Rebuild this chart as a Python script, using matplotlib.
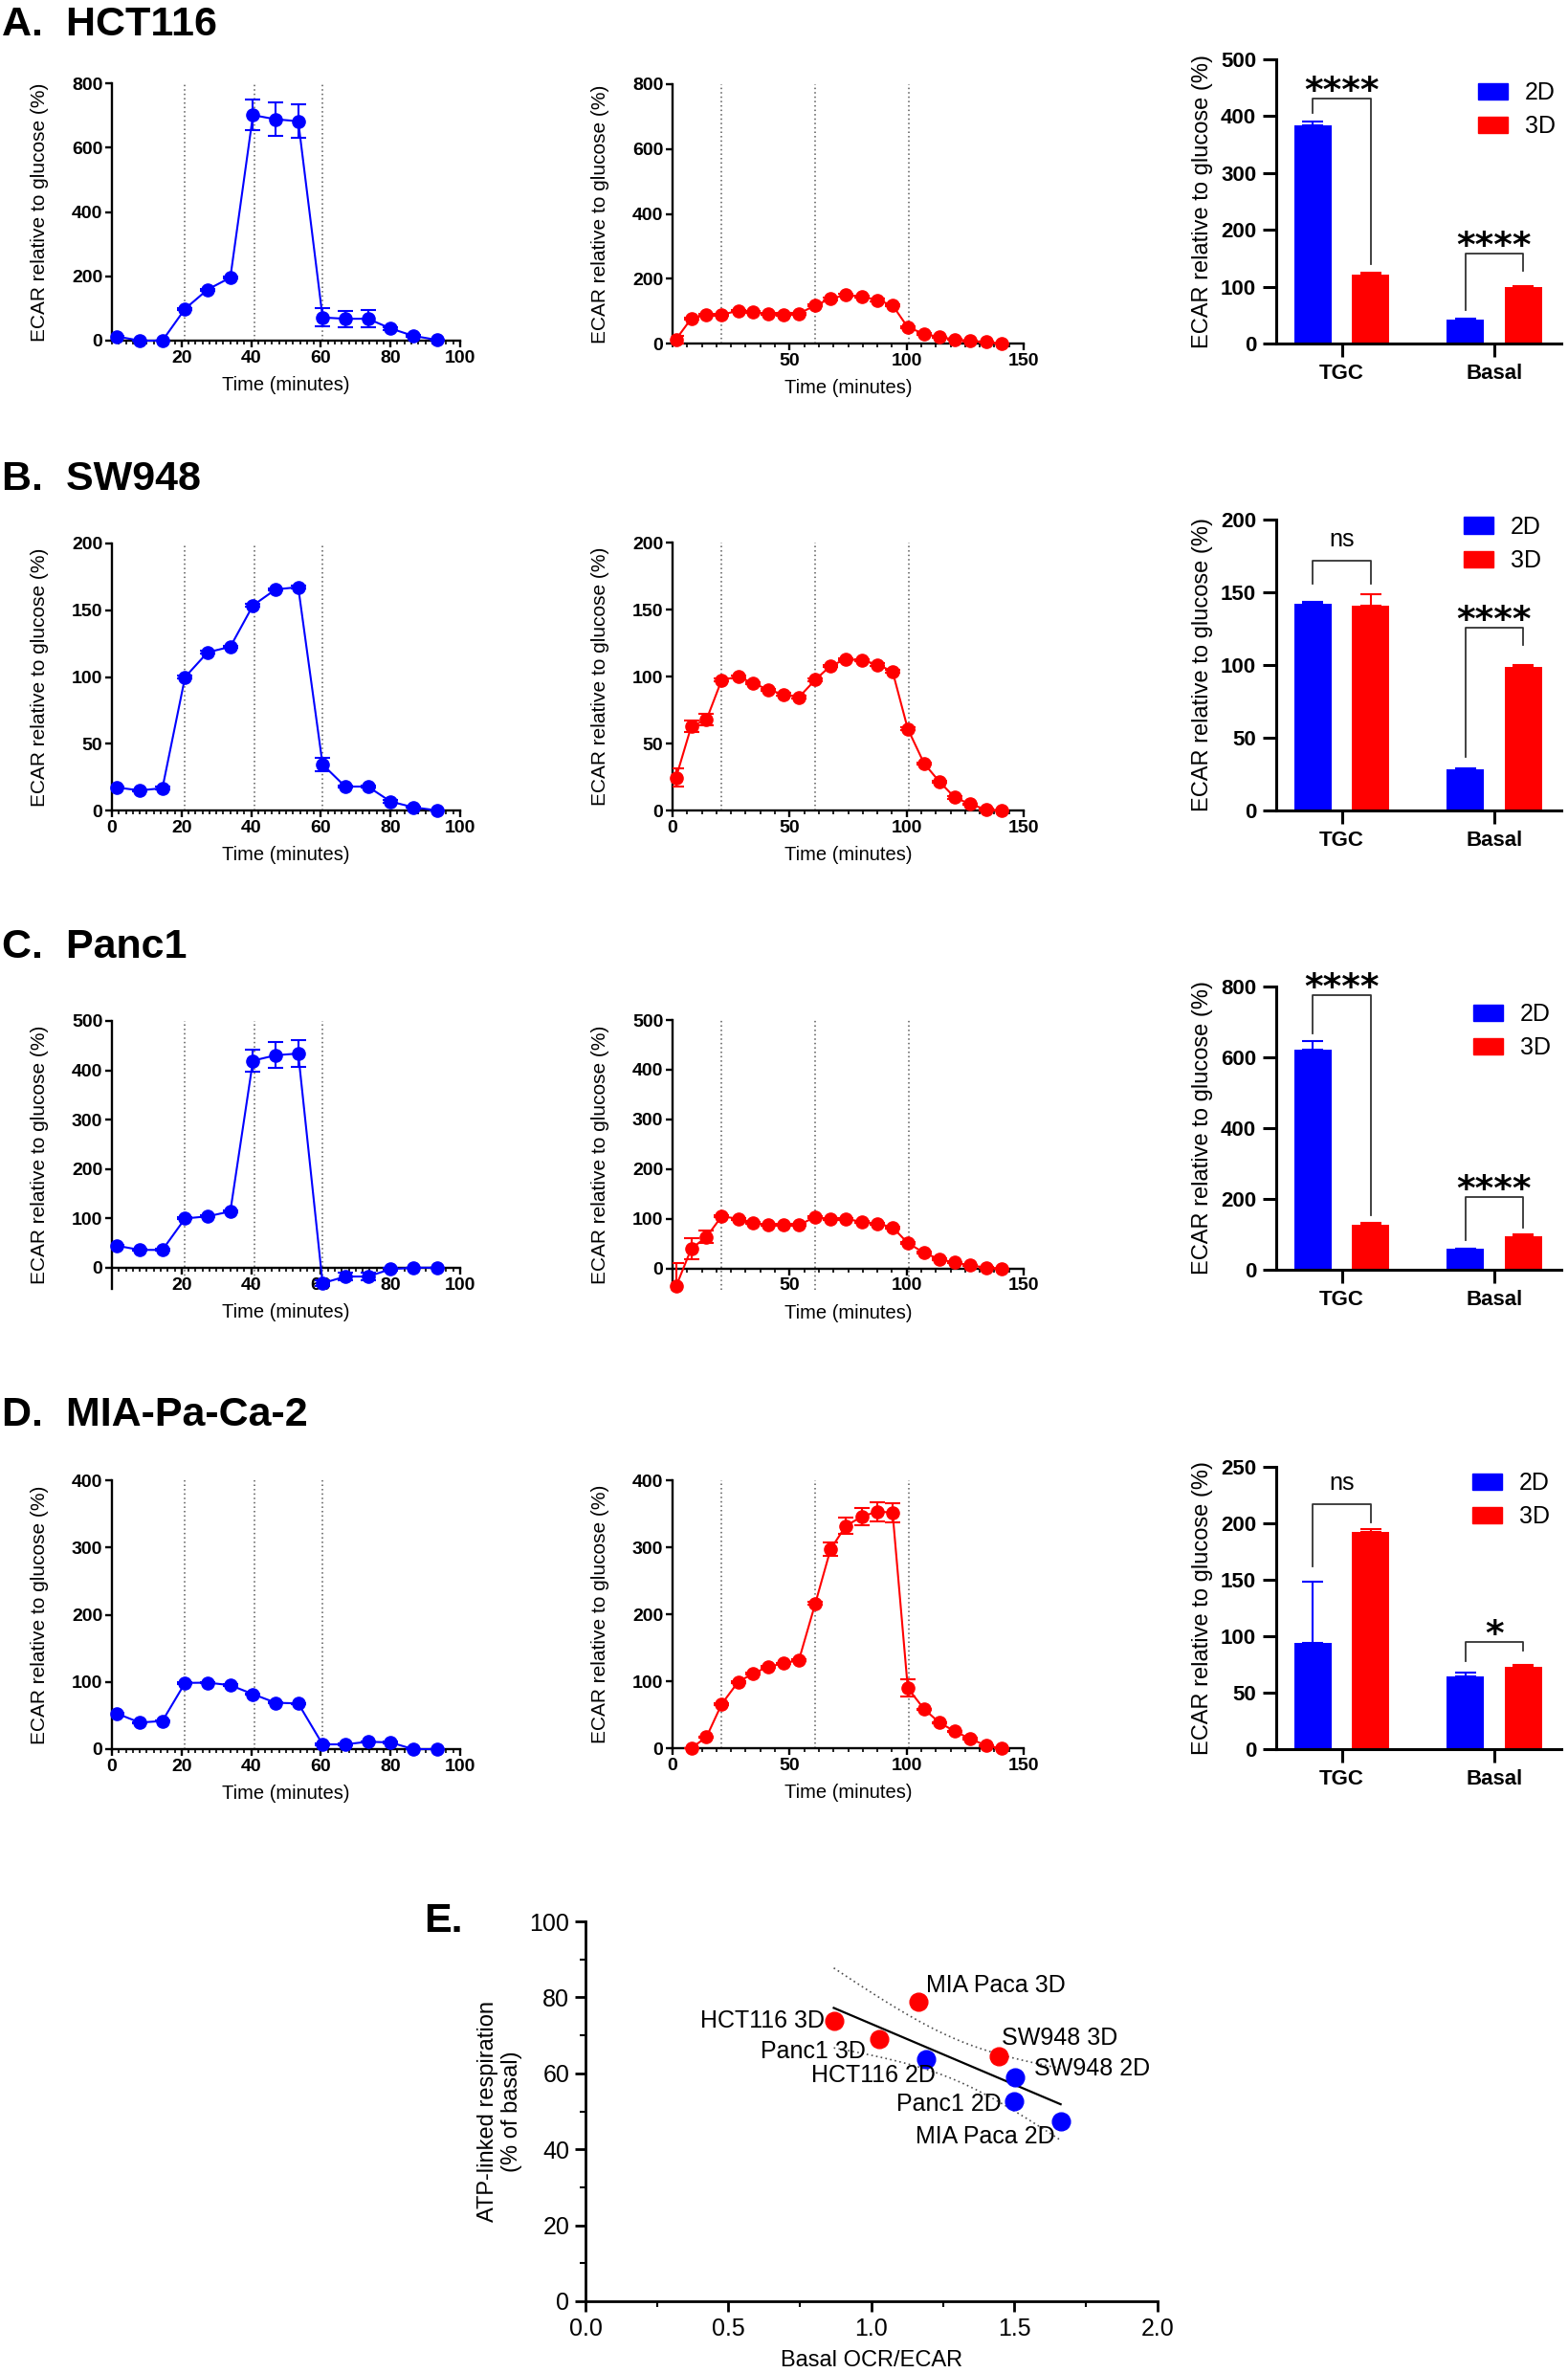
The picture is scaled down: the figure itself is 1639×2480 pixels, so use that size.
import numpy as np
import matplotlib
matplotlib.use("Agg")
import matplotlib.pyplot as plt
from matplotlib.ticker import MultipleLocator, FormatStrFormatter
from matplotlib.patches import Patch

plt.rcParams['font.family'] = ['Liberation Sans', 'DejaVu Sans']

W, H = 1640, 2480
BLUE = '#0000FF'
RED = '#FF0000'

# ---- time axes (minutes) ----
t_2d = [1.5, 8, 14.5, 21, 27.5, 34, 40.5, 47, 53.5, 60.5, 67, 73.5, 80, 86.5, 93.5]
t_3d = [1.5, 8, 14.5, 21, 28, 34.5, 41, 47.5, 54, 61, 67.5, 74, 81, 87.5, 94,
        100.5, 107.5, 114, 120.5, 127, 134, 140.5]
inj_2d = [21, 41, 60.5]
inj_3d = [21, 61, 101]

# ---- A. HCT116 ----
hct_2d = [13, 0, 0, 99, 159, 196, 701, 688, 682, 72, 68, 68, 38, 15, 2]
hct_2d_err = [3, 0, 0, 3, 3, 3, 48, 52, 53, 28, 25, 26, 5, 3, 0]
hct_3d = [13, 77, 89, 89, 101, 98, 91, 90, 92, 118, 138, 150, 145, 134, 118,
          50, 30, 20, 13, 8, 5, 0]
hct_3d_err = [12, 4, 3, 3, 3, 3, 3, 3, 3, 4, 4, 4, 4, 4, 4, 3, 2, 2, 1, 1, 1, 0]

# ---- B. SW948 ----
sw_2d = [17.2, 15, 16.7, 99.9, 118.5, 122.6, 153.6, 165.6, 167.3, 34.4, 17.9, 17.9, 6.7, 2.4, 0]
sw_2d_err = [1, 1, 1, 1, 1, 1, 1, 1, 1, 5, 1, 1, 1, 0.5, 0]
sw_3d = [24.6, 62.8, 67.8, 97.4, 99.8, 95, 90, 86.6, 84.5, 97.6, 107.9, 112.9, 112.2,
         108.9, 103.8, 60.9, 35, 21.5, 9.8, 4.8, 0.7, 0]
sw_3d_err = [7, 4, 4, 1, 1, 1, 1, 1, 1, 1, 1, 1, 1, 1, 1, 1, 1, 1, 1, 0.5, 0.5, 0]

# ---- C. Panc1 ----
panc_2d = [44.4, 36, 36, 99.7, 104, 114, 419.5, 430.5, 434, -31.5, -18, -18, -3, 0, 0]
panc_2d_err = [2, 2, 2, 2, 2, 2, 23, 26, 27, 6, 8, 8, 3, 0, 0]
panc_3d = [-36, 39.8, 63.5, 105, 100, 92.4, 87.3, 87.3, 87.3, 104, 98.8, 100, 93.7,
           90.5, 82.8, 51.3, 31.4, 18.6, 12.2, 6.4, 1.9, 0]
panc_3d_err = [46, 21, 12, 2, 2, 2, 2, 2, 2, 2, 2, 2, 2, 2, 2, 2, 2, 1, 1, 1, 0.5, 0]

# ---- D. MIA-Pa-Ca-2 ----
mia_2d = [52.8, 39.5, 41.9, 98.5, 98.9, 95.1, 81.8, 69, 68, 7.1, 7.1, 11, 10, 0, 0]
mia_2d_err = [1, 1, 1, 1, 1, 1, 1, 1, 1, 1, 1, 1, 1, 0, 0]
mia_3d = [0, 16.7, 65.9, 98.8, 111.7, 121.7, 126.5, 131.7, 216.2, 296.9, 331.8, 346,
          353.2, 351.8, 89.7, 58.2, 38.2, 25.3, 14.3, 3.8, 0]
mia_3d_err = [0, 1, 1, 1, 1, 1, 1, 1, 2, 10, 12, 13, 14, 14, 13, 1, 1, 1, 1, 1, 0]

# ---- bar charts: TGC, Basal ----
groups = ['TGC', 'Basal']
hct_bar_2d, hct_bar_2d_err = [384, 42], [7, 1.5]
hct_bar_3d, hct_bar_3d_err = [121, 99], [4, 2]
sw_bar_2d, sw_bar_2d_err = [142.3, 28.3], [1, 0.7]
sw_bar_3d, sw_bar_3d_err = [141, 98.7], [8, 1.2]
panc_bar_2d, panc_bar_2d_err = [621.6, 58.6], [24, 2]
panc_bar_3d, panc_bar_3d_err = [126, 94.6], [7, 6]
mia_bar_2d, mia_bar_2d_err = [94.3, 64.6], [53.8, 3]
mia_bar_3d, mia_bar_3d_err = [192, 73], [3, 1.5]

# significance brackets: (top, left leg end, right leg end, label)
hct_sig = [(431, 406, 139, '****'), (158, 59, 128, '****')]
sw_sig = [(172, 156, 156, 'ns'), (125.4, 36.6, 114, '****')]
panc_sig = [(776.6, 666.7, 153, '****'), (204.5, 83, 120, '****')]
mia_sig = [(216.9, 162, 201, 'ns'), (95, 78, 87, '*')]

# ---- E. correlation ----
e_names = ['HCT116 3D', 'Panc1 3D', 'MIA Paca 3D', 'SW948 3D',
           'HCT116 2D', 'SW948 2D', 'Panc1 2D', 'MIA Paca 2D']
e_ratio = [0.868, 1.026, 1.164, 1.444, 1.19, 1.503, 1.497, 1.661]
e_atp = [73.7, 68.9, 78.9, 64.5, 63.7, 59.0, 52.6, 47.4]
e_cult = ['3D', '3D', '3D', '3D', '2D', '2D', '2D', '2D']

fig = plt.figure(figsize=(16.4, 24.8), dpi=100)


def add_px_axes(l, t, r, b):
    return fig.add_axes([l / W, 1 - b / H, (r - l) / W, (b - t) / H])


def kinetic(box, t, y, err, color, vlines, ymin, ymax, ystep, xmax, xstep, xminor, show_zero):
    ax = add_px_axes(*box)
    for v in vlines:
        ax.axvline(v, color='0.35', ls=(0, (1, 2)), lw=1.1, zorder=1)
    ax.errorbar(t, y, yerr=err, fmt='none', ecolor=color, capsize=5.5, capthick=1.5,
                elinewidth=1.5, zorder=3)
    ax.plot(t, y, color=color, marker='o', ms=9.5, lw=1.5, clip_on=False, zorder=4)
    ax.set_xlim(0, xmax)
    ax.set_ylim(ymin, ymax)
    ax.set_yticks(np.arange(0, ymax + 1, ystep))
    ax.set_xticks(np.arange(0 if show_zero else xstep, xmax + 1, xstep))
    ax.xaxis.set_minor_locator(MultipleLocator(xminor))
    ax.spines[['top', 'right']].set_visible(False)
    ax.spines['bottom'].set_position(('data', 0))
    ax.spines[['left', 'bottom']].set_linewidth(1.7)
    ax.tick_params(which='major', labelsize=14, width=1.7, length=5, pad=2)
    ax.tick_params(axis='x', which='minor', width=1.2, length=3)
    for lab in ax.get_xticklabels() + ax.get_yticklabels():
        lab.set_fontweight('bold')
    ax.set_xlabel('Time (minutes)', fontsize=14.5)
    ax.set_ylabel('ECAR relative to glucose (%)', fontsize=15)
    w_px = box[2] - box[0]
    h_px = box[3] - box[1]
    y0 = (0 - ymin) / (ymax - ymin)
    ax.xaxis.set_label_coords(0.5, y0 - 37 / h_px)
    ax.yaxis.set_label_coords(-66 / w_px, 0.5)
    return ax


def barplot(box, v2, e2, v3, e3, ymax, ystep, sig, leg_xy):
    ax = add_px_axes(*box)
    x = np.arange(len(groups))
    ax.bar(x - 0.19, v2, 0.245, color=BLUE, yerr=[np.zeros(len(x)), e2],
           error_kw=dict(ecolor=BLUE, capsize=8, elinewidth=1.5, capthick=1.5), zorder=2)
    ax.bar(x + 0.19, v3, 0.245, color=RED, yerr=[np.zeros(len(x)), e3],
           error_kw=dict(ecolor=RED, capsize=8, elinewidth=1.5, capthick=1.5), zorder=2)
    ax.set_xlim(-0.43, 1.44)
    ax.set_ylim(0, ymax)
    ax.set_yticks(np.arange(0, ymax + 1, ystep))
    ax.set_xticks(x, groups)
    ax.spines[['top', 'right']].set_visible(False)
    ax.spines[['left', 'bottom']].set_linewidth(2.2)
    ax.tick_params(labelsize=16, width=2.2, length=10, pad=5)
    for lab in ax.get_xticklabels() + ax.get_yticklabels():
        lab.set_fontweight('bold')
    ax.set_ylabel('ECAR relative to glucose (%)', fontsize=17)
    ax.yaxis.set_label_coords(-66 / (box[2] - box[0]), 0.5)
    for xi, (top, lft, rgt, lab) in zip(x, sig):
        xl, xr = xi - 0.19, xi + 0.19
        ax.plot([xl, xl, xr, xr], [lft, top, top, rgt], color='0.2', lw=1.3, clip_on=False)
        if lab == 'ns':
            ax.annotate(lab, ((xl + xr) / 2, top), xytext=(0, 15), textcoords='offset pixels',
                        ha='center', va='baseline', fontsize=18, annotation_clip=False)
        else:
            ax.annotate(lab, ((xl + xr) / 2, top), xytext=(0, -3), textcoords='offset pixels',
                        ha='center', va='baseline', fontsize=27, fontweight='bold',
                        family='DejaVu Sans', annotation_clip=False)
    handles = [Patch(color=BLUE, label='2D'), Patch(color=RED, label='3D')]
    ax.legend(handles=handles, loc='upper left',
              bbox_to_anchor=(leg_xy[0] / W, 1 - leg_xy[1] / H), bbox_transform=fig.transFigure,
              frameon=False, fontsize=18, handlelength=1.25, handleheight=0.7,
              handletextpad=0.7, labelspacing=0.45, borderpad=0, borderaxespad=0)
    return ax


# panel titles
titles = ['A.  HCT116', 'B.  SW948', 'C.  Panc1', 'D.  MIA-Pa-Ca-2']
title_y = [37, 512, 1001, 1490]
for txt, yb in zip(titles, title_y):
    fig.text(2 / W, 1 - yb / H, txt, fontsize=31, fontweight='bold', va='baseline', ha='left')

# row A
kinetic((117, 87, 481, 356), t_2d, hct_2d, hct_2d_err, BLUE, inj_2d, 0, 800, 200, 100, 20, 2, False)
kinetic((703, 88, 1070, 359), t_3d, hct_3d, hct_3d_err, RED, inj_3d, 0, 800, 200, 150, 50, 6.25, False)
barplot((1334, 62, 1632, 359), hct_bar_2d, hct_bar_2d_err, hct_bar_3d, hct_bar_3d_err,
        500, 100, hct_sig, (1545, 85))

# row B
kinetic((117, 568, 481, 847), t_2d, sw_2d, sw_2d_err, BLUE, inj_2d, 0, 200, 50, 100, 20, 2, True)
kinetic((703, 567, 1070, 847), t_3d, sw_3d, sw_3d_err, RED, inj_3d, 0, 200, 50, 150, 50, 6.25, True)
barplot((1334, 543, 1632, 847), sw_bar_2d, sw_bar_2d_err, sw_bar_3d, sw_bar_3d_err,
        200, 50, sw_sig, (1530, 539))

# row C
kinetic((117, 1067, 481, 1347), t_2d, panc_2d, panc_2d_err, BLUE, inj_2d, -43, 500, 100, 100, 20, 2, False)
kinetic((703, 1066, 1070, 1348), t_3d, panc_3d, panc_3d_err, RED, inj_3d, -43, 500, 100, 150, 50, 6.25, False)
barplot((1334, 1031, 1632, 1327), panc_bar_2d, panc_bar_2d_err, panc_bar_3d, panc_bar_3d_err,
        800, 200, panc_sig, (1540, 1048))

# row D
kinetic((117, 1547, 481, 1828), t_2d, mia_2d, mia_2d_err, BLUE, inj_2d, 0, 400, 100, 100, 20, 2, True)
kinetic((703, 1547, 1070, 1827), t_3d[1:], mia_3d, mia_3d_err, RED, inj_3d, 0, 400, 100, 150, 50, 6.25, True)
barplot((1334, 1533, 1632, 1828), mia_bar_2d, mia_bar_2d_err, mia_bar_3d, mia_bar_3d_err,
        250, 50, mia_sig, (1539, 1538))

# ---- panel E ----
axE = add_px_axes(612, 2008, 1210, 2405)
xr = np.array(e_ratio)
ya = np.array(e_atp)
slope, icpt = np.polyfit(xr, ya, 1)
n = len(xr)
resid = ya - (slope * xr + icpt)
s = np.sqrt(np.sum(resid ** 2) / (n - 2))
sxx = np.sum((xr - xr.mean()) ** 2)
xs = np.linspace(xr.min(), xr.max(), 100)
fit = slope * xs + icpt
band = 2.447 * s * np.sqrt(1 / n + (xs - xr.mean()) ** 2 / sxx)
axE.plot(xs, fit, color='black', lw=1.6, zorder=2)
axE.plot(xs, fit + band, color='0.3', ls=(0, (1, 2)), lw=1.2, zorder=2)
axE.plot(xs, fit - band, color='0.3', ls=(0, (1, 2)), lw=1.2, zorder=2)
for xv, yv, c in zip(e_ratio, e_atp, e_cult):
    axE.plot(xv, yv, 'o', ms=13.5, color=BLUE if c == '2D' else RED, zorder=3)

label_layout = {
    'HCT116 3D': ('right', (-10, 0)),
    'Panc1 3D': ('right', (-14, -13)),
    'MIA Paca 3D': ('left', (8, 17)),
    'SW948 3D': ('left', (3, 19)),
    'HCT116 2D': ('right', (10, -17)),
    'SW948 2D': ('left', (20, 9)),
    'Panc1 2D': ('right', (-13, -3)),
    'MIA Paca 2D': ('right', (-6, -16)),
}
for name, xv, yv in zip(e_names, e_ratio, e_atp):
    ha, off = label_layout[name]
    axE.annotate(name, (xv, yv), xytext=off, textcoords='offset pixels',
                 ha=ha, va='center', fontsize=18)

axE.set_xlim(0, 2)
axE.set_ylim(0, 100)
axE.set_xticks(np.arange(0, 2.01, 0.5))
axE.set_yticks(np.arange(0, 101, 20))
axE.xaxis.set_major_formatter(FormatStrFormatter('%.1f'))
axE.xaxis.set_minor_locator(MultipleLocator(0.25))
axE.yaxis.set_minor_locator(MultipleLocator(10))
axE.spines[['top', 'right']].set_visible(False)
axE.spines[['left', 'bottom']].set_linewidth(2)
axE.tick_params(which='major', labelsize=18, width=2, length=8, pad=4)
axE.tick_params(which='minor', width=1.5, length=4)
axE.set_xlabel('Basal OCR/ECAR', fontsize=17)
axE.set_ylabel('ATP-linked respiration\n(% of basal)', fontsize=17)
axE.xaxis.set_label_coords(0.5, -51 / 397)
axE.yaxis.set_label_coords(-66 / 598, 0.5)
fig.text(443 / W, 1 - 2019 / H, 'E.', fontsize=31, fontweight='bold', va='baseline', ha='left')

fig.savefig('out.png', dpi=100)
